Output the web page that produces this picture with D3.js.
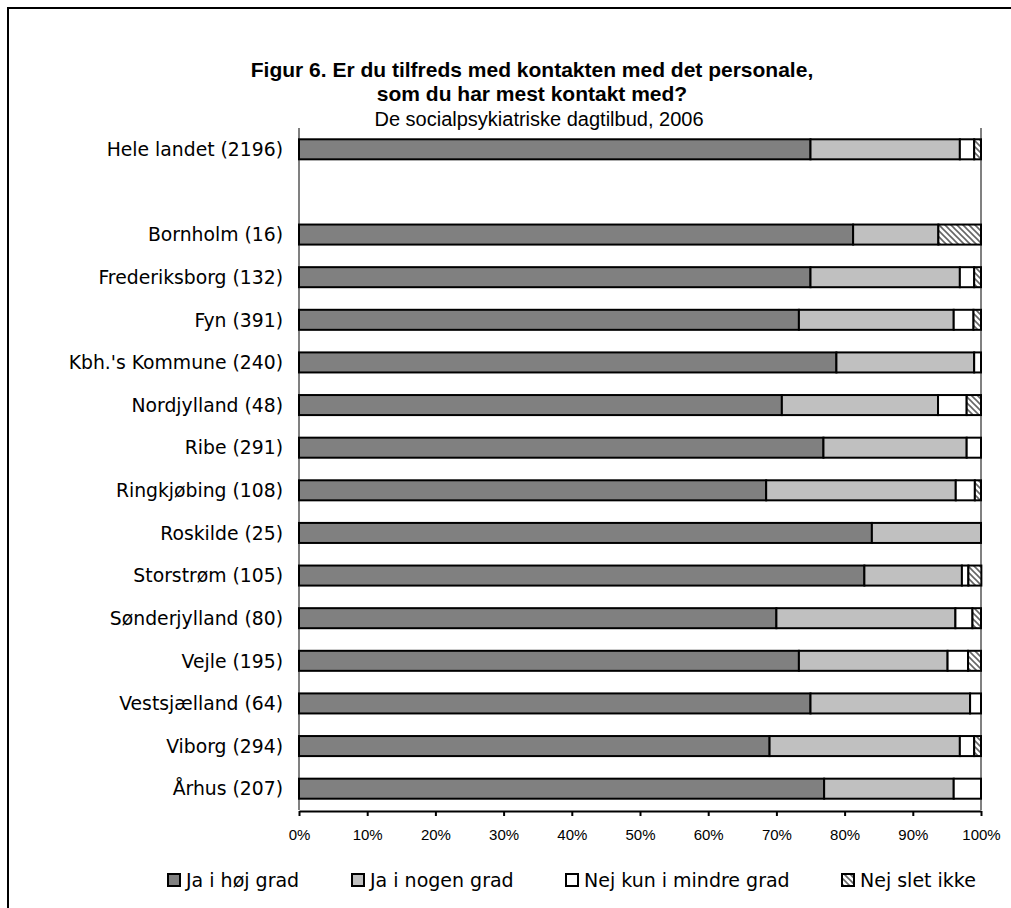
<!DOCTYPE html>
<html>
<head>
<meta charset="utf-8">
<script src="https://cdn.jsdelivr.net/npm/d3@7"></script>
<style>
  html, body { margin: 0; padding: 0; background: #fff; }
  svg { display: block; }
</style>
</head>
<body>
<svg id="chart" width="1011" height="908"></svg>
<script>
// ---- data ----
const categories = ["Hele landet (2196)", "", "Bornholm (16)", "Frederiksborg (132)", "Fyn (391)",
  "Kbh.'s Kommune (240)", "Nordjylland (48)", "Ribe (291)", "Ringkjøbing (108)", "Roskilde (25)",
  "Storstrøm (105)", "Sønderjylland (80)", "Vejle (195)", "Vestsjælland (64)", "Viborg (294)", "Århus (207)"];
const jaHoej    = [75.0, null, 81.25, 75.0, 73.3, 78.8, 70.8, 76.9, 68.5, 84.0, 82.9, 70.0, 73.3, 75.0, 69.0, 77.0];
const jaNogen   = [21.9, null, 12.5, 21.9, 22.7, 20.2, 22.9, 21.0, 27.8, 16.0, 14.3, 26.25, 21.8, 23.4, 27.9, 19.0];
const nejMindre = [2.1, null, 0, 2.1, 2.9, 1.0, 4.2, 2.1, 2.8, 0, 0.95, 2.5, 3.0, 1.6, 2.1, 4.0];
const nejSlet   = [1.0, null, 6.25, 1.0, 1.1, 0, 2.1, 0, 0.9, 0, 1.9, 1.25, 1.9, 0, 1.0, 0];
const seriesNames = ["Ja i høj grad", "Ja i nogen grad", "Nej kun i mindre grad", "Nej slet ikke"];
const xTicks = [0, 10, 20, 30, 40, 50, 60, 70, 80, 90, 100];
const titleLines = ["Figur 6. Er du tilfreds med kontakten med det personale,", "som du har mest kontakt med?"];
const subtitle = "De socialpsykiatriske dagtilbud, 2006";

const svg = d3.select("#chart");

// pattern for hatch
const defs = svg.append("defs");
const pat = defs.append("pattern").attr("id", "hatch").attr("patternUnits", "userSpaceOnUse")
  .attr("width", 6).attr("height", 6);
pat.append("rect").attr("width", 6).attr("height", 6).attr("fill", "#fff");
pat.append("path").attr("d", "M-1,-1 L7,7 M-1,5 L1,7 M5,-1 L7,1")
  .attr("stroke", "#666").attr("stroke-width", 1.6);

const fills = ["#808080", "#c0c0c0", "#ffffff", "url(#hatch)"];

// outer frame (open on right/bottom)
svg.append("path").attr("d", "M8,908 V8 H1011").attr("fill", "none")
  .attr("stroke", "#000").attr("stroke-width", 2);

// titles
const tg = svg.append("g").attr("font-family", "'Liberation Sans', Arial, sans-serif").attr("text-anchor", "middle");
tg.append("text").attr("x", 532).attr("y", 77).attr("font-size", 21).attr("font-weight", "bold").text(titleLines[0]);
tg.append("text").attr("x", 532).attr("y", 101).attr("font-size", 21).attr("font-weight", "bold").text(titleLines[1]);
tg.append("text").attr("x", 539).attr("y", 126).attr("font-size", 20).text(subtitle);

// scales
const x = d3.scaleLinear().domain([0, 100]).range([299, 981]);
const y = d3.scaleBand().domain(categories).range([128, 810]).paddingInner(0.53).paddingOuter(0.265);

// plot area border (gray)
svg.append("line").attr("x1", x(0)).attr("x2", x(0)).attr("y1", 128).attr("y2", 810).attr("stroke", "#808080").attr("stroke-width", 2);
svg.append("line").attr("x1", x(100)).attr("x2", x(100)).attr("y1", 128).attr("y2", 810).attr("stroke", "#808080").attr("stroke-width", 2);

// stacked bars
const rows = categories.map((c, i) => ({ c, v: [jaHoej[i], jaNogen[i], nejMindre[i], nejSlet[i]] }))
  .filter(r => r.v[0] !== null);
const gBars = svg.append("g");
rows.forEach(r => {
  let acc = 0;
  r.v.forEach((val, k) => {
    if (val > 0) {
      gBars.append("rect")
        .attr("x", x(acc)).attr("y", y(r.c))
        .attr("width", x(acc + val) - x(acc)).attr("height", y.bandwidth())
        .attr("fill", fills[k]).attr("stroke", "#000").attr("stroke-width", 2);
    }
    acc += val;
  });
});

// category labels
svg.append("g").attr("font-family", "'DejaVu Sans', Verdana, sans-serif").attr("font-size", 18.8)
  .attr("text-anchor", "end")
  .selectAll("text").data(categories.filter(c => c !== "")).join("text")
  .attr("x", 283).attr("y", d => y(d) + y.bandwidth() / 2).attr("dy", "0.36em").text(d => d);

// x axis
const xAxis = d3.axisBottom(x).tickValues(xTicks).tickFormat(d => d + "%").tickSize(5).tickSizeOuter(0);
const ax = svg.append("g").attr("transform", "translate(0,811)").call(xAxis);
ax.select(".domain").attr("stroke", "#000").attr("stroke-width", 2);
ax.selectAll(".tick line").attr("stroke", "#000").attr("stroke-width", 2);
ax.selectAll(".tick text").attr("font-family", "'Liberation Sans', Arial, sans-serif").attr("font-size", 15)
  .attr("fill", "#000").attr("y", 18);

// legend
const legendX = [168, 352, 566, 842];
const lg = svg.append("g").attr("font-family", "'DejaVu Sans', Verdana, sans-serif").attr("font-size", 19);
seriesNames.forEach((n, k) => {
  lg.append("rect").attr("x", legendX[k]).attr("y", 874).attr("width", 12).attr("height", 12)
    .attr("fill", fills[k]).attr("stroke", "#000").attr("stroke-width", 2);
  lg.append("text").attr("x", legendX[k] + 18).attr("y", 880).attr("dy", "0.36em").text(n);
});
</script>
</body>
</html>
